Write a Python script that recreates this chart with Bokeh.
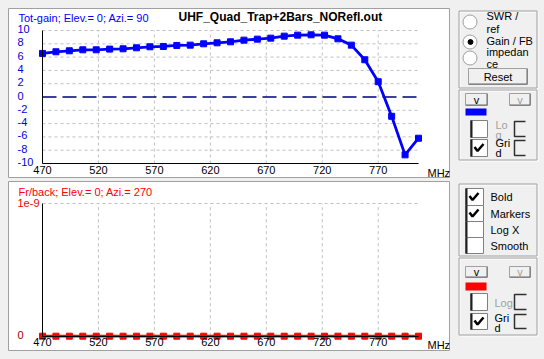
from bokeh.plotting import figure
from bokeh.models import (Range1d, FixedTicker, Label, Spacer, LinearAxis,
                          GlobalInlineStyleSheet)
from bokeh.layouts import row, column
from bokeh.embed import file_html
from bokeh.resources import INLINE
from bokeh.core.properties import value

FONT = "'Liberation Sans'"
FS = "11px"

# ---------------- data ----------------
freq_mhz = [470, 482, 494, 506, 518, 530, 542, 554, 566, 578, 590, 602, 614, 626, 638,
            650, 662, 674, 686, 698, 710, 722, 734, 746, 758, 770, 782, 794, 806]
tot_gain = [6.55, 6.8, 6.95, 7.1, 7.1, 7.2, 7.25, 7.4, 7.55, 7.6, 7.75, 7.8, 8.0, 8.15, 8.3,
            8.55, 8.7, 8.85, 9.15, 9.3, 9.35, 9.3, 8.75, 7.8, 5.6, 2.3, -2.9, -8.7, -6.2]
fr_back = [0, 0, 0, 0, 0, 0, 0, 0, 0, 0, 0, 0, 0, 0, 0,
           0, 0, 0, 0, 0, 0, 0, 0, 0, 0, 0, 0, 0, 0]
x_ticks = [470, 520, 570, 620, 670, 720, 770]
x_grid = [520, 570, 620, 670, 720, 770]
x_bounds = (470, 806)
gain_bounds = (-10, 10)
gain_ticks = [10, 8, 6, 4, 2, 0, -2, -4, -6, -8, -10]
gain_labels = ["10", "8", "6", "4", "2", "0", "-2", "-4", "-6", "-8", "-10"]
gain_grid = [10, 8, 6, 4, 2, -2, -4, -6, -8]
gain_ref = 0
fb_bounds = (0, 1e-9)
fb_ticks = [1e-9, 0]
fb_labels = ["1e-9", "0"]
fb_label_colors = ["#ff0000", "#990000"]
fb_grid = [1e-9]

GRID_COLOR = "#c0c0c0"
PX_PER_MHZ = 376 / 336.0


def panel(y_range, y_bounds, y_grid):
    f = figure(width=442, height=170,
               x_range=Range1d(470 - 34 / PX_PER_MHZ, 470 + 408 / PX_PER_MHZ),
               y_range=y_range, output_backend="svg", toolbar_location=None,
               min_border=0, x_axis_location=None, y_axis_location=None,
               background_fill_color="white", border_fill_color="white",
               outline_line_color="#a0a0a0")
    f.grid.visible = False
    # dashed grid drawn from the tick lists, within the axis bounds
    f.segment(x0=x_grid, x1=x_grid, y0=[y_bounds[0]] * len(x_grid),
              y1=[y_bounds[1]] * len(x_grid), line_color=GRID_COLOR,
              line_dash="3 3", line_width=1)
    f.segment(x0=[x_bounds[0]] * len(y_grid), x1=[x_bounds[1]] * len(y_grid),
              y0=y_grid, y1=y_grid, line_color=GRID_COLOR, line_dash="3 3",
              line_width=1)
    xa = LinearAxis(fixed_location=y_bounds[0], bounds=x_bounds,
                    ticker=FixedTicker(ticks=x_ticks))
    xa.major_tick_out = 0
    xa.major_tick_in = 0
    xa.minor_tick_line_color = None
    xa.major_label_text_font = FONT
    xa.major_label_text_font_size = FS
    xa.major_label_text_color = "black"
    xa.axis_line_color = "black"
    f.add_layout(xa, "below")
    ya = LinearAxis(fixed_location=x_bounds[0], bounds=y_bounds,
                    ticker=FixedTicker(ticks=[]))
    ya.major_tick_out = 0
    ya.major_tick_in = 0
    ya.minor_tick_line_color = None
    ya.axis_line_color = "black"
    f.add_layout(ya, "left")
    return f, xa


def lab(f, x, y, text, color, xo=0, yo=0, bold=False, size=FS):
    f.add_layout(Label(x=x, y=y, text=text, x_offset=xo, y_offset=yo,
                       text_font=FONT, text_font_size=size, text_color=color,
                       text_baseline="middle", text_align="left",
                       text_font_style="bold" if bold else "normal"))


# ---------------- top panel: gain ----------------
top, top_xa = panel(Range1d(-10 - 15 / 6.65, 10 + 22 / 6.65), gain_bounds, gain_grid)
top_xa.major_label_standoff = 2
top.segment(x0=[x_bounds[0]], x1=[x_bounds[1]], y0=[gain_ref], y1=[gain_ref],
            line_color="#000080", line_dash="14 6", line_width=1.5)
top.line(freq_mhz, tot_gain, line_color="#0000ff", line_width=2.8)
top.scatter(freq_mhz, tot_gain, marker="square", size=6, fill_color="#0000ff",
            line_color="#0000ff")
for t, s in zip(gain_ticks, gain_labels):
    lab(top, 470, t, s, "#0000dd", xo=-25, yo=1.5)
lab(top, 470, 10, "Tot-gain; Elev.= 0; Azi.= 90", "#0000ff", xo=-24, yo=12.5)
lab(top, 470, 10, "UHF_Quad_Trap+2Bars_NORefl.out", "black", xo=136, yo=13.3,
    bold=True, size="12px")
lab(top, 806, -10, "MHz", "black", xo=9, yo=-9.3)

# ---------------- bottom panel: front/back ----------------
bot, bot_xa = panel(Range1d(-15.3 / 132.7 * 1e-9, 1e-9 + 22 / 132.7 * 1e-9), fb_bounds, fb_grid)
bot_xa.major_label_standoff = 2
bot.line(freq_mhz, fr_back, line_color="#ff0000", line_width=2.8)
bot.scatter(freq_mhz, fr_back, marker="square", size=6, fill_color="#ff0000",
            line_color="#ff0000")
for t, s, c in zip(fb_ticks, fb_labels, fb_label_colors):
    lab(bot, 470, t, s, c, xo=-25, yo=1.0)
lab(bot, 470, 1e-9, "Fr/back; Elev.= 0; Azi.= 270", "#ff0000", xo=-24, yo=11.3)
lab(bot, 806, 0, "MHz", "black", xo=9, yo=-8.5)

# ---------------- right control panel (window chrome) ----------------
ctl = figure(width=94, height=343, x_range=Range1d(450, 544), y_range=Range1d(351, 8),
             output_backend="svg", toolbar_location=None, min_border=0,
             x_axis_location=None, y_axis_location=None,
             background_fill_color="#f0f0f0", border_fill_color="#f0f0f0",
             outline_line_color=None)
ctl.grid.visible = False
TF = value(FONT)

# group boxes (etched)
gl, gr = [458.5] * 4, [536.5] * 4
gt, gb = [10.5, 89.5, 183.5, 257.5], [87.5, 159.5, 255.5, 334.5]
ctl.quad(left=[v + 1 for v in gl], right=[v + 1 for v in gr],
         top=[v + 1 for v in gt], bottom=[v + 1 for v in gb],
         fill_color=None, line_color="white")
ctl.quad(left=gl, right=gr, top=gt, bottom=gb, fill_color=None, line_color="#a0a0a0")

# radio buttons
ctl.scatter([469.5, 469.5, 469.5], [21.5, 41.5, 57.5], marker="circle", size=14,
            fill_color="white", line_color="#a0a0a0")
ctl.scatter([470], [41.5], marker="circle", size=5, fill_color="black", line_color="black")
ctl.text([486, 486, 486, 486, 486], [15, 28, 40, 51, 63],
         text=["SWR /", "ref", "Gain / FB", "impedan", "ce"],
         text_font=TF, text_font_size=FS, text_color="black", text_baseline="middle")


def button(x0, x1, y0, y1, label, color):
    ctl.quad(left=[x0], right=[x1], top=[y0], bottom=[y1], fill_color="#f0f0f0",
             line_color="#a0a0a0")
    ctl.line([x0 + 0.5, x1 - 0.5, x1 - 0.5], [y1 - 0.5, y1 - 0.5, y0 + 0.5],
             line_color="#696969", line_width=1)
    ctl.text([(x0 + x1) / 2], [(y0 + y1) / 2], text=[label], text_font=TF,
             text_font_size=FS, text_color=color, text_align="center",
             text_baseline="middle")


button(468, 527, 68, 84, "Reset", "black")
button(465, 487, 93, 105, "v", "black")
button(509, 530, 93, 105, "v", "#a0a0a0")
button(465, 487, 266, 277, "v", "black")
button(509, 530, 266, 277, "v", "#a0a0a0")

# colour swatches
ctl.quad(left=[465, 465], right=[486, 486], top=[108, 282], bottom=[115, 290],
         fill_color=["#0000ff", "#ff0000"], line_color=None)

# check boxes
cb_l = [470, 470, 465, 465, 465, 465, 470, 470]
cb_r = [487, 487, 483, 483, 483, 483, 487, 487]
cb_t = [120, 139, 188, 205, 221, 237, 293, 313]
cb_b = [137, 156, 205, 221, 237, 253, 310, 329]
checked = [False, True, True, True, False, False, False, True]
ctl.quad(left=cb_l, right=cb_r, top=cb_t, bottom=cb_b, fill_color="white",
         line_color="#808080")
ctl.multi_line([[l + 1, l + 1] for l in cb_l], [[t, b] for t, b in zip(cb_t, cb_b)],
               line_color="#202020", line_width=2)
ck_xs, ck_ys = [], []
for l, t, b, c in zip(cb_l, cb_t, cb_b, checked):
    if c:
        m = (t + b) / 2
        ck_xs.append([l + 4, l + 7, l + 13])
        ck_ys.append([m - 1, m + 3, m - 4])
ctl.multi_line(ck_xs, ck_ys, line_color="black", line_width=2.5)

# half boxes next to Log / Grid
hb_l = [514, 514, 514, 514]
hb_r = [525, 525, 526, 526]
hb_t = [121, 140, 294, 314]
hb_b = [136, 155, 309, 328]
ctl.multi_line([[r, l, l, r] for l, r in zip(hb_l, hb_r)],
               [[t, t, b, b] for t, b in zip(hb_t, hb_b)],
               line_color="#303030", line_width=1.5)

ctl.text([495, 495], [124, 134], text=["Lo", "g"], text_font=TF, text_font_size=FS,
         text_color="#a0a0a0", text_baseline="middle")
ctl.text([495, 495], [142, 152], text=["Gri", "d"], text_font=TF, text_font_size=FS,
         text_color="black", text_baseline="middle")
ctl.text([490, 490, 490, 490], [196, 213, 229, 245],
         text=["Bold", "Markers", "Log X", "Smooth"], text_font=TF,
         text_font_size=FS, text_color="black", text_baseline="middle")
ctl.text([494], [302], text=["Log"], text_font=TF, text_font_size=FS,
         text_color="#a0a0a0", text_baseline="middle")
ctl.text([494, 494], [317, 327], text=["Gri", "d"], text_font=TF, text_font_size=FS,
         text_color="black", text_baseline="middle")

left = column(top, Spacer(width=442, height=3), bot, spacing=0)
body = row(Spacer(width=8, height=343), left, ctl, spacing=0)
page = column(Spacer(width=544, height=8), body, spacing=0)
page.stylesheets = [GlobalInlineStyleSheet(
    css="html, body { background-color: #f0f0f0 !important; }")]

open("out.html", "w").write(file_html(page, INLINE))
